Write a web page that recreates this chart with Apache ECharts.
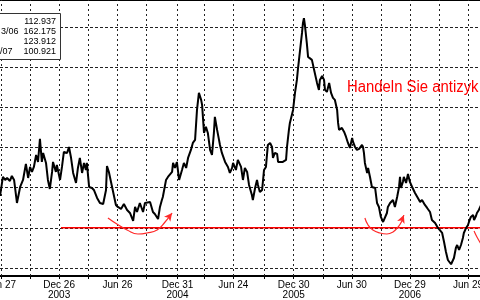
<!DOCTYPE html>
<html><head><meta charset="utf-8">
<script src="https://cdn.jsdelivr.net/npm/echarts@6/dist/echarts.min.js"></script>
<style>html,body{margin:0;padding:0;background:#fff}#c{width:480px;height:300px}</style>
</head><body><div id="c"></div>
<script>
// days since Fri 27 Jun 2003
const startDate = '2003-06-27';
const dayOffsets = [-3,6,13,19,28,34,41,50,60,69,78,85,91,97,103,110,116,122,128,132,141,147,153,160,163,172,175,185,191,197,207,213,219,226,235,241,247,254,260,266,269,276,285,291,301,310,320,329,332,338,348,354,360,366,376,385,395,404,414,420,426,435,445,451,457,467,476,482,492,498,504,507,517,523,529,536,539,545,551,558,567,573,580,586,595,601,608,614,620,627,630,636,642,648,655,661,667,670,677,683,686,692,702,711,717,724,727,736,742,752,758,764,771,777,786,789,796,802,805,811,818,824,830,836,843,849,852,858,865,868,874,883,893,896,902,905,915,921,927,930,937,943,946,949,952,958,962,968,974,981,990,996,999,1006,1012,1015,1021,1028,1034,1040,1046,1053,1056,1059,1068,1075,1081,1087,1093,1100,1103,1109,1115,1122,1131,1134,1137,1140,1147,1150,1156,1162,1172,1178,1184,1190,1197,1203,1209,1212,1219,1225,1228,1234,1241,1247,1250,1253,1259,1262,1269,1275,1281,1288,1297,1306,1313,1319,1328,1335,1344,1350,1360,1369,1382,1388,1394,1400,1410,1416,1419,1425,1429,1435,1441,1447,1450,1457,1463,1466,1472,1479,1482,1488,1491,1497,1504];
const values = [117.93,122.66,121.91,122.41,121.66,122.91,121.91,116.18,120.17,121.91,125.90,122.41,125.15,123.91,125.15,128.14,126.40,132.13,126.40,128.64,126.15,121.91,119.67,123.91,126.40,123.91,125.65,121.91,125.15,128.89,128.64,130.13,127.64,123.66,121.17,124.90,127.39,123.66,126.15,124.40,126.15,120.17,119.92,119.42,117.43,116.18,115.94,119.42,125.40,123.91,120.17,120.17,115.69,115.19,114.69,115.94,114.44,113.69,111.70,115.19,113.94,116.18,113.94,116.18,115.69,116.43,113.94,113.44,112.20,115.19,116.93,117.68,121.91,122.66,122.41,123.91,126.15,124.90,126.40,121.91,124.40,126.15,124.90,127.39,129.39,131.13,131.88,139.35,143.59,141.84,140.60,133.62,135.12,133.62,129.39,128.14,133.62,137.61,134.37,131.88,130.63,128.64,126.40,125.15,123.66,124.90,126.15,124.40,126.90,125.15,121.91,124.90,123.91,120.67,118.18,116.93,119.92,121.91,120.67,118.92,119.42,124.40,125.15,130.63,131.13,130.13,127.39,128.64,128.39,126.40,126.15,126.40,126.90,130.13,134.37,136.11,139.35,143.59,146.82,149.31,154.30,158.53,161.02,162.175,160.52,156.04,152.55,152.30,151.81,149.31,146.08,144.33,146.82,147.82,146.82,144.33,143.83,146.08,143.59,142.34,141.84,139.35,136.11,134.37,134.87,133.87,132.62,131.13,129.88,132.38,131.38,130.13,129.39,129.64,130.63,130.13,128.64,126.15,123.66,124.90,122.66,120.17,119.92,116.18,115.19,112.70,111.45,111.70,113.69,115.19,116.18,115.69,116.93,115.19,117.68,120.17,122.66,119.92,121.42,122.66,121.17,123.41,121.42,120.17,118.68,117.43,116.43,116.93,115.69,114.94,113.94,111.95,111.20,109.96,108.71,106.47,103.98,101.99,100.921,101.24,102.48,104.97,105.72,104.48,105.72,107.47,108.71,109.96,110.70,111.45,112.70,113.19,111.95,112.95,113.69,114.44,115.69];

const labelDays = [0,182,365,553,728,917,1099,1281,1463];
const labelTexts = ['Jun 27','Dec 26\n2003','Jun 26','Dec 31\n2004','Jun 24','Dec 30\n2005','Jun 30','Dec 29\n2006','Jun 29'];
const gridDays = [0,91,182,273,365,455,553,637,728,826,917,1008,1099,1190,1281,1372,1463];
const gridValues = [100,110,120,130,140,150,160];

const supportDays = [188,1510];
const supportValues = [110,110];
const arc1Days = [335,363,395,429,457,489,514,536];
const arc1Values = [112.45,110.95,109.46,108.46,108.71,109.46,111.45,113.69];
const arc2Days = [1140,1150,1165,1187,1209,1228,1244,1256,1262];
const arc2Values = [112.45,110.70,109.46,108.71,108.46,108.96,110.21,111.70,113.19];
const arc3Days = [1482,1491,1504];
const arc3Values = [109.21,107.71,105.97];

const legendValues = ['112.937','162.175','123.912','100.921'];
const legendNames = ['','3/06','','/07'];
const noteText = 'Handeln Sie antizyk';

const zip = (a,b) => a.map((x,i)=>[x,b[i]]);
function arcData(ds, vs, rot){
  const d = zip(ds, vs).map(p=>({value:p}));
  if (rot !== null) {
    d[d.length-1] = {value: d[d.length-1].value, symbol:'arrow', symbolSize:[6,8], symbolRotate: rot};
  }
  return d;
}
const chart = echarts.init(document.getElementById('c'), null, {renderer:'canvas'});
const gridMarks = gridValues.map(v=>({yAxis:v, lineStyle:{type:[3,2]}}))
  .concat(gridDays.map(d=>({xAxis:d, lineStyle:{type:[2,3]}})));
const redArc = (ds, vs, rot) => ({
  type:'line', data: arcData(ds, vs, rot), smooth:0.5, symbol:'none', showSymbol:true,
  lineStyle:{color:'#ff2a2a', width:1.2}, itemStyle:{color:'#ff2a2a'}, z:2, silent:true, animation:false
});
chart.setOption({
  animation:false,
  backgroundColor:'#fff',
  grid:{left:0, right:0, top:0, bottom:24, containLabel:false, outerBoundsMode:'none'},
  xAxis:[{
    type:'value', min:-3.13, max:1500.6,
    splitLine:{show:false},
    axisLine:{show:true, lineStyle:{color:'#000', width:2}},
    axisTick:{show:true, customValues:gridDays, length:3, lineStyle:{color:'#000', width:1}},
    axisLabel:{customValues:labelDays, formatter:v=>labelTexts[labelDays.indexOf(v)], fontSize:10, lineHeight:10,
      color:'#000', fontFamily:'"Liberation Sans", Arial, sans-serif', margin:4}
  },{
    type:'value', position:'top', min:-3.13, max:1500.6,
    splitLine:{show:false}, axisTick:{show:false}, axisLabel:{show:false},
    axisLine:{show:true, lineStyle:{color:'#000', width:2}}
  }],
  yAxis:{type:'value', min:98, max:166.72, show:false},
  series:[
    {type:'line', data: zip(supportDays, supportValues), symbol:'none',
     lineStyle:{color:'#ff0000', width:1.5}, z:2, silent:true,
     markLine:{silent:true, z:1, symbol:'none', label:{show:false},
       lineStyle:{color:'#222', width:1}, data: gridMarks, animation:false}},
    redArc(arc1Days, arc1Values, -38),
    redArc(arc2Days, arc2Values, -22),
    redArc(arc3Days, arc3Values, null),
    {type:'line', data: zip(dayOffsets, values), symbol:'none', z:3,
     lineStyle:{color:'#000', width:2}, silent:true}
  ],
  graphic:[
    {type:'rect', z:100, shape:{x:-5, y:13.5, width:65.5, height:46},
     style:{fill:'#fff', stroke:'#333', lineWidth:1}},
    ...legendValues.map((t,i)=>({type:'text', z:101, x:56, y:21.7+i*10,
      style:{text:t, fill:'#000', font:'9px "Liberation Sans", Arial, sans-serif', align:'right', verticalAlign:'middle'}})),
    ...legendNames.filter(t=>t).map((t)=>({type:'text', z:101, x: t==='3/06'?18.5:12.5, y: t==='3/06'?31.7:51.7,
      style:{text:t, fill:'#000', font:'9px "Liberation Sans", Arial, sans-serif', align:'right', verticalAlign:'middle'}})),
    {type:'text', z:100, x:347, y:88, scaleX:0.93,
     style:{text:noteText, fill:'#ff0000', font:'16px "Liberation Sans", Arial, sans-serif', align:'left', verticalAlign:'middle'}}
  ]
});
</script></body></html>
